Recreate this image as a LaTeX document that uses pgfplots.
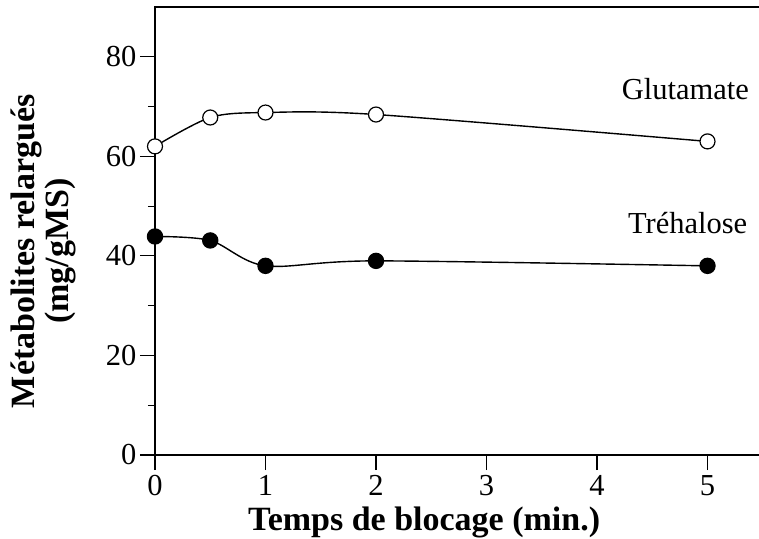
\documentclass[border=0pt]{standalone}
\usepackage{fontspec}
\setmainfont{Liberation Serif}
\usepackage{pgfplots}
\pgfplotsset{compat=1.18}
\begin{document}
\begin{tikzpicture}
\useasboundingbox (0,0) rectangle (759pt,538pt);
\begin{axis}[
  at={(155pt,83pt)}, anchor=south west,
  scale only axis, width=618.8pt, height=448pt,
  xmin=0, xmax=5.6, ymin=0, ymax=90,
  clip=false,
  axis line style={line width=1.8pt},
  xtick={0,1,2,3,4,5}, ytick={0,20,40,60,80},
  minor ytick={10,30,50,70},
  xtick pos=bottom, ytick pos=left,
  tick align=outside,
  major tick length=15pt, minor tick length=7pt,
  every tick/.style={line width=1.2pt, black},
  /pgf/number format/assume math mode=true,
  tick label style={font=\fontsize{30.5}{36}\selectfont},
  xticklabel style={yshift=-2pt},
  xlabel={Temps de blocage (min.)},
  ylabel={Métabolites relargués\\(mg/gMS)},
  every axis x label/.style={at={(rel axis cs:0.435,0)}, anchor=north, yshift=-48pt, font=\fontsize{34}{38}\selectfont\bfseries},
  every axis y label/.style={at={(rel axis cs:0,0.455)}, rotate=90, anchor=center, yshift=112pt, align=center, font=\fontsize{34}{34}\selectfont\bfseries},
]
\addplot[black, line width=1.4pt, smooth, tension=0.5, mark=*, mark size=7.5pt, mark options={fill=white, line width=1.2pt}]
  coordinates {(0,62.0) (0.5,67.8) (1,68.8) (2,68.4) (5,63.0)};
\addplot[black, line width=1.4pt, smooth, tension=0.5, mark=*, mark size=7.5pt, mark options={fill=black}]
  coordinates {(0,43.9) (0.5,43.1) (1,38.0) (2,39.0) (5,38.0)};
\node[font=\fontsize{30.5}{34}\selectfont] at (axis cs:4.8,73.6) {Glutamate};
\node[font=\fontsize{30.5}{34}\selectfont] at (axis cs:4.82,46.5) {Tréhalose};
\end{axis}
\end{tikzpicture}
\end{document}
